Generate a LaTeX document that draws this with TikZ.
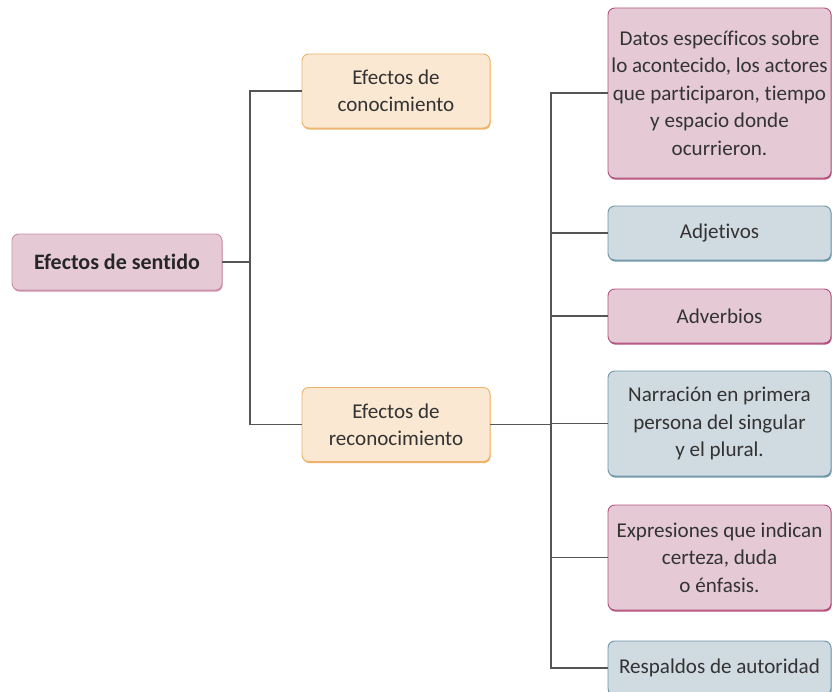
\documentclass[tikz,border=0pt]{standalone}
\usepackage{fontspec}
\setmainfont{Carlito}[Ligatures={NoCommon,NoRare}]
\usetikzlibrary{shadows}
\definecolor{rosafill}{HTML}{E5CAD5}
\definecolor{rosaline}{HTML}{B3527E}
\definecolor{raizfill}{HTML}{E5CAD5}
\definecolor{raizline}{HTML}{CC8FA9}
\definecolor{azulfill}{HTML}{CFDAE1}
\definecolor{azulline}{HTML}{6E97A7}
\definecolor{ocrefill}{HTML}{FAE8D2}
\definecolor{ocreline}{HTML}{EDB36A}
\definecolor{rama}{HTML}{555555}
\definecolor{letra}{HTML}{333333}
\tikzset{caja/.style={draw=#1line, fill=#1fill, rounded corners=5pt, line width=0.7pt, align=center, text=letra, inner sep=2pt, font=\fontsize{15.8}{20.6}\selectfont, general shadow={fill=#1line, shadow xshift=0.5pt, shadow yshift=-1.2pt}}}
\tikzset{derecha/.style={caja=#1, minimum width=167.25pt}}
\tikzset{linea/.style={draw=rama, line width=1.3pt}}

\begin{document}
\begin{tikzpicture}[x=0.75pt, y=-0.75pt]
  \useasboundingbox (0,0) rectangle (832,692);
  \clip (0,0) rectangle (832,692);
  % primer nivel
  \node[caja=raiz, minimum width=157.5pt, minimum height=42pt, font=\fontsize{16.5}{20}\selectfont\bfseries, text=black!85] (raiz) at (117,262) {Efectos de sentido};
  \node[caja=ocre, minimum width=141pt, minimum height=55.5pt] (conoc) at (396,91) {Efectos de\\conocimiento};
  \node[caja=ocre, minimum width=141pt, minimum height=55.5pt] (reconoc) at (396,424.5) {Efectos de\\reconocimiento};
  % segundo nivel
  \node[derecha=rosa, minimum height=127.5pt] (datos) at (719.5,93) {Datos específicos sobre\\lo acontecido, los actores\\que participaron, tiempo\\y espacio donde\\ocurrieron.};
  \node[derecha=azul, minimum height=40.5pt] (adjetivos) at (719.5,233) {Adjetivos};
  \node[derecha=rosa, minimum height=40.5pt] (adverbios) at (719.5,316) {Adverbios};
  \node[derecha=azul, minimum height=78.75pt] (narracion) at (719.5,423.5) {Narración en primera\\persona del singular\\y el plural.};
  \node[derecha=rosa, minimum height=78.75pt] (expresiones) at (719.5,557.5) {Expresiones que indican\\certeza, duda\\o énfasis.};
  \node[derecha=azul, minimum height=40.5pt] (respaldos) at (719.5,668) {Respaldos de autoridad};
  % conectores
  \coordinate (nudoA) at (250,262);
  \coordinate (nudoB) at (551,424.5);
  \draw[linea] (raiz.east) -- (nudoA) |- (conoc.west);
  \draw[linea] (nudoA) |- (reconoc.west);
  \draw[linea] (reconoc.east) -- (nudoB);
  \foreach \hoja in {datos, adjetivos, adverbios, narracion, expresiones, respaldos}
    \draw[linea] (nudoB) |- (\hoja.west);
\end{tikzpicture}
\end{document}
